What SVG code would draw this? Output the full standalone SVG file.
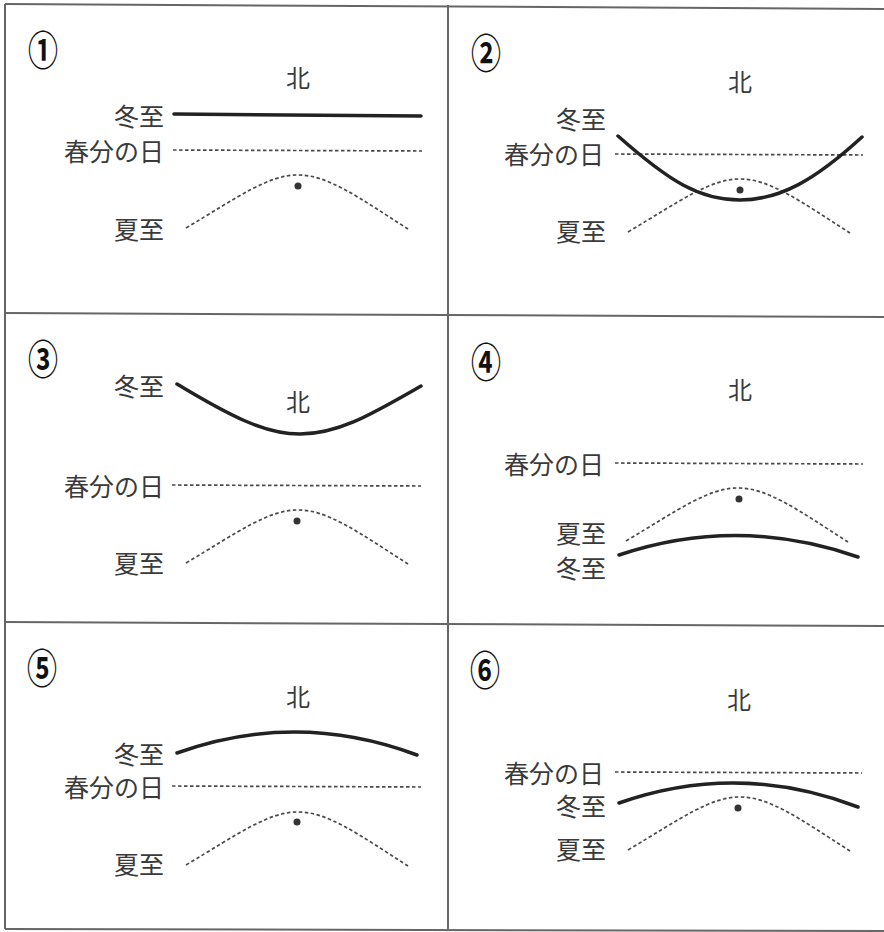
<svg xmlns="http://www.w3.org/2000/svg" xmlns:xlink="http://www.w3.org/1999/xlink" width="884" height="932" viewBox="0 0 884 932">
<style>
.bg{fill:#fff}
.grid{stroke:#666;stroke-width:2;fill:none}
.lbl{font-family:"Noto Sans CJK JP","Noto Sans CJK SC",sans-serif;font-size:25px;fill:#3a3a3a;text-anchor:end;dominant-baseline:central}
.north{font-family:"Noto Sans CJK JP","Noto Sans CJK SC",sans-serif;font-size:24px;fill:#3a3a3a;text-anchor:middle;dominant-baseline:central}
.num{font-family:"Noto Sans CJK JP","Noto Sans CJK SC",sans-serif;font-size:40px;font-weight:bold;fill:#111;text-anchor:middle;dominant-baseline:central}
.winter{stroke:#222;stroke-width:3.5;fill:none;stroke-linecap:round}
.dash{stroke:#4a4a4a;stroke-width:1.7;fill:none;stroke-dasharray:3.5 2.5}
.dot{fill:#333}
</style>
<defs>
<path id="bell" d="M-112,53 C-60,22 -30,0 0,0 C30,0 60,22 110,54"/>
</defs>
<rect class="bg" x="0" y="0" width="884" height="932"/>
<g id="grid">
<line class="grid" x1="5" y1="4" x2="884" y2="9"/>
<line class="grid" x1="5" y1="4" x2="5" y2="929"/>
<line class="grid" x1="448" y1="5" x2="448" y2="929"/>
<line class="grid" x1="5" y1="313" x2="884" y2="317"/>
<line class="grid" x1="5" y1="622" x2="884" y2="626"/>
<line class="grid" x1="5" y1="929" x2="884" y2="931"/>
</g>
<g id="panel1">
<text class="num" transform="translate(43,47) scale(0.75,1)">①</text>
<text class="north" x="298" y="76">北</text>
<text class="lbl" x="164" y="115">冬至</text>
<text class="lbl" x="164" y="150">春分の日</text>
<text class="lbl" x="164" y="228">夏至</text>
<line class="winter" x1="174" y1="114" x2="421" y2="116"/>
<line class="dash" x1="173" y1="150" x2="422" y2="151"/>
<use class="dash" xlink:href="#bell" href="#bell" x="298" y="175"/>
<circle class="dot" cx="298" cy="186" r="3.5"/>
</g>
<g id="panel2">
<text class="num" transform="translate(486,50) scale(0.75,1)">②</text>
<text class="north" x="740" y="80">北</text>
<text class="lbl" x="606" y="118">冬至</text>
<text class="lbl" x="604" y="153">春分の日</text>
<text class="lbl" x="606" y="230">夏至</text>
<line class="dash" x1="615" y1="154" x2="863" y2="155"/>
<use class="dash" xlink:href="#bell" href="#bell" x="740" y="179"/>
<path class="winter" d="M618,136 C670,182 700,200 740,200 C780,200 815,180 862,137"/>
<circle class="dot" cx="740" cy="190" r="3.5"/>
</g>
<g id="panel3">
<text class="num" transform="translate(43,356) scale(0.75,1)">③</text>
<text class="north" x="298" y="400">北</text>
<text class="lbl" x="164" y="385">冬至</text>
<text class="lbl" x="164" y="485">春分の日</text>
<text class="lbl" x="164" y="562">夏至</text>
<path class="winter" d="M177,384 C230,416 265,434 300,434 C340,434 375,412 421,386"/>
<line class="dash" x1="172" y1="485" x2="421" y2="486"/>
<use class="dash" xlink:href="#bell" href="#bell" x="298" y="510"/>
<circle class="dot" cx="297" cy="521" r="3.5"/>
</g>
<g id="panel4">
<text class="num" transform="translate(486,359) scale(0.75,1)">④</text>
<text class="north" x="740" y="388">北</text>
<text class="lbl" x="604" y="463">春分の日</text>
<text class="lbl" x="606" y="532">夏至</text>
<text class="lbl" x="606" y="567">冬至</text>
<line class="dash" x1="615" y1="463" x2="863" y2="464"/>
<use class="dash" xlink:href="#bell" href="#bell" x="738" y="488"/>
<circle class="dot" cx="739" cy="499" r="3.5"/>
<path class="winter" d="M619,555 Q738,515 858,557"/>
</g>
<g id="panel5">
<text class="num" transform="translate(42,665) scale(0.75,1)">⑤</text>
<text class="north" x="298" y="695">北</text>
<text class="lbl" x="164" y="753">冬至</text>
<text class="lbl" x="164" y="786">春分の日</text>
<text class="lbl" x="164" y="863">夏至</text>
<path class="winter" d="M177,753 Q297,710 417,755"/>
<line class="dash" x1="172" y1="786" x2="421" y2="787"/>
<use class="dash" xlink:href="#bell" href="#bell" x="298" y="812"/>
<circle class="dot" cx="297" cy="822" r="3.5"/>
</g>
<g id="panel6">
<text class="num" transform="translate(485,667) scale(0.75,1)">⑥</text>
<text class="north" x="739" y="698">北</text>
<text class="lbl" x="604" y="772">春分の日</text>
<text class="lbl" x="606" y="805">冬至</text>
<text class="lbl" x="606" y="848">夏至</text>
<line class="dash" x1="615" y1="772" x2="862" y2="773"/>
<path class="winter" d="M619,803 Q738,761 858,807"/>
<use class="dash" xlink:href="#bell" href="#bell" x="740" y="797"/>
<circle class="dot" cx="738" cy="808" r="3.5"/>
</g>
</svg>
